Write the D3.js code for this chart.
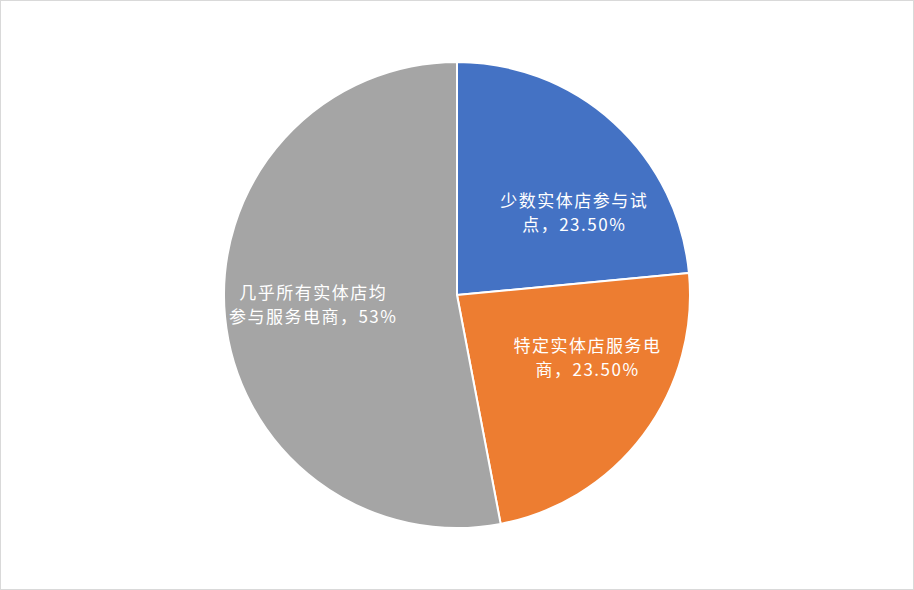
<!DOCTYPE html>
<html>
<head>
<meta charset="utf-8">
<script src="https://cdn.jsdelivr.net/npm/d3@7"></script>
<style>
  html, body { margin: 0; padding: 0; background: #fff; }
  svg { display: block; }
  .slice-label {
    font-family: "Noto Sans CJK SC", "Noto Sans", sans-serif;
    font-size: 17px;
    letter-spacing: 1.5px;
    fill: #fff;
  }
</style>
</head>
<body>
<div id="pie-chart"></div>
<script>
// Data
var categories = ["少数实体店参与试点", "特定实体店服务电商", "几乎所有实体店均参与服务电商"];
var values = [23.5, 23.5, 53];
var valueLabels = ["23.50%", "23.50%", "53%"];
// how Excel wrapped each label
var labelLines = [
  ["少数实体店参与试", "点，23.50%"],
  ["特定实体店服务电", "商，23.50%"],
  ["几乎所有实体店均", "参与服务电商，53%"]
];
var colors = ["#4472c4", "#ed7d31", "#a5a5a5"];

var width = 914,
  height = 590;

var render = function() {
  var container = d3.select("#pie-chart");
  container.html("");

  var svg = container
    .append("svg")
    .attr("width", width)
    .attr("height", height);

  // chart frame
  svg
    .append("rect")
    .attr("x", 0.5)
    .attr("y", 0.5)
    .attr("width", width - 1)
    .attr("height", height - 1)
    .attr("fill", "#fff")
    .attr("stroke", "#d9d9d9")
    .attr("stroke-width", 1);

  var cx = 457,
    cy = 295,
    radius = 233;

  var data = values.map(function(v, i) {
    return { name: categories[i], value: v, pct: valueLabels[i], lines: labelLines[i] };
  });

  var pie = d3
    .pie()
    .sort(null)
    .value(d => d.value);

  var arc = d3
    .arc()
    .innerRadius(0)
    .outerRadius(radius);

  var labelArc = d3
    .arc()
    .innerRadius(radius * 0.62)
    .outerRadius(radius * 0.62);

  // nudges so labels sit like Excel's best-fit
  var nudges = [[20, 23], [15, -25], [0, -5]];

  var g = svg.append("g").attr("transform", "translate(" + cx + "," + cy + ")");

  var arcs = pie(data);

  g.selectAll("path")
    .data(arcs)
    .enter()
    .append("path")
    .attr("d", arc)
    .attr("fill", (d, i) => colors[i])
    .attr("stroke", "#fff")
    .attr("stroke-width", 2)
    .attr("stroke-linejoin", "round");

  var labels = g
    .selectAll("text")
    .data(arcs)
    .enter()
    .append("text")
    .attr("class", "slice-label")
    .attr("text-anchor", "middle")
    .attr("transform", function(d, i) {
      var c = labelArc.centroid(d);
      return "translate(" + (c[0] + nudges[i][0]) + "," + (c[1] + nudges[i][1]) + ")";
    });

  labels
    .selectAll("tspan")
    .data(d => d.data.lines)
    .enter()
    .append("tspan")
    .attr("x", 0)
    .attr("dy", (d, i) => (i == 0 ? "-0.25em" : "1.4em"))
    .text(d => d);
};

render();
</script>
</body>
</html>
